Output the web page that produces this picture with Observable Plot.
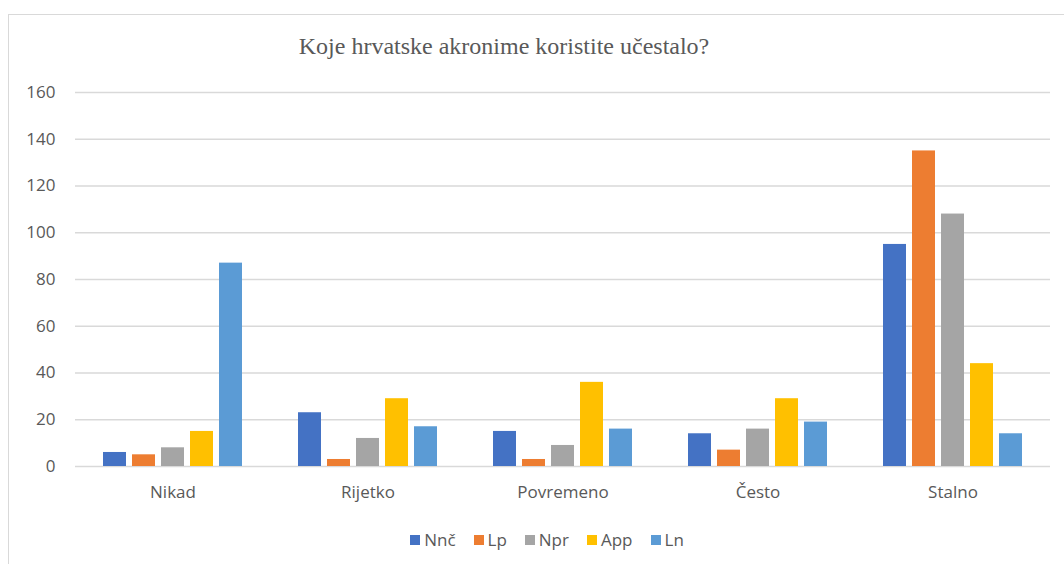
<!DOCTYPE html>
<html>
<head>
<meta charset="utf-8">
<script src="https://cdn.jsdelivr.net/npm/d3@7"></script>
<script src="https://cdn.jsdelivr.net/npm/@observablehq/plot@0.6"></script>
<style>
  html, body { margin: 0; padding: 0; background: #fff; }
  #wrap { position: relative; width: 1064px; height: 564px; overflow: hidden; background: #fff; }
  #frame { position: absolute; left: 8px; top: 14px; width: 1100px; height: 600px; border-left: 1.5px solid #d9d9d9; border-top: 1.5px solid #d9d9d9; box-sizing: border-box; }
  #title { position: absolute; left: 0; width: 1008px; top: 30px; text-align: center; font-family: "Liberation Serif", "Times New Roman", serif; font-size: 24px; color: #595959; line-height: 32px; }
  #chart { position: absolute; left: 0; top: 70px; }
  #legend { position: absolute; left: 0; top: 529px; width: 1094px; display: flex; justify-content: center; gap: 18px; font-family: "Open Sans", sans-serif; font-size: 17px; color: #595959; line-height: 22px; }
  .item { display: flex; align-items: center; }
  .sw { width: 10px; height: 10px; margin-right: 4px; display: inline-block; }
</style>
</head>
<body>
<div id="wrap">
  <div id="frame"></div>
  <div id="title">Koje hrvatske akronime koristite učestalo?</div>
  <div id="chart"></div>
  <div id="legend"></div>
</div>
<script>
const categories = ["Nikad", "Rijetko", "Povremeno", "Često", "Stalno"];
const series = ["Nnč", "Lp", "Npr", "App", "Ln"];
const colors = ["#4472C4", "#ED7D31", "#A5A5A5", "#FFC000", "#5B9BD5"];
const valuesNnc = [6, 23, 15, 14, 95];
const valuesLp  = [5, 3, 3, 7, 135];
const valuesNpr = [8, 12, 9, 16, 108];
const valuesApp = [15, 29, 36, 29, 44];
const valuesLn  = [87, 17, 16, 19, 14];
const yTicks = [0, 20, 40, 60, 80, 100, 120, 140, 160];

const seriesValues = [valuesNnc, valuesLp, valuesNpr, valuesApp, valuesLn];
const data = [];
categories.forEach((c, i) => {
  series.forEach((s, j) => {
    data.push({category: c, series: s, value: seriesValues[j][i]});
  });
});

const plot = Plot.plot({
  width: 1064,
  height: 440,
  marginLeft: 74,
  marginRight: 13,
  marginTop: 22,
  marginBottom: 44,
  style: { fontFamily: "'Open Sans', sans-serif", fontSize: "17px", color: "#595959", background: "transparent" },
  fx: { domain: categories, padding: 0, label: null, tickSize: 0, tickPadding: 19 },
  x: { domain: series, paddingInner: 0.2, paddingOuter: 0.857, axis: null },
  y: { domain: [0, 160], ticks: yTicks, label: null, tickSize: 0, tickPadding: 20, grid: false },
  color: { domain: series, range: colors },
  marks: [
    Plot.ruleY(yTicks, { stroke: "#d9d9d9", strokeWidth: 1.3 }),
    Plot.barY(data, { fx: "category", x: "series", y: "value", fill: "series" })
  ]
});
document.getElementById("chart").appendChild(plot);

const legend = document.getElementById("legend");
series.forEach((s, i) => {
  const it = document.createElement("div");
  it.className = "item";
  const sw = document.createElement("span");
  sw.className = "sw";
  sw.style.background = colors[i];
  it.appendChild(sw);
  it.appendChild(document.createTextNode(s));
  legend.appendChild(it);
});
</script>
</body>
</html>
